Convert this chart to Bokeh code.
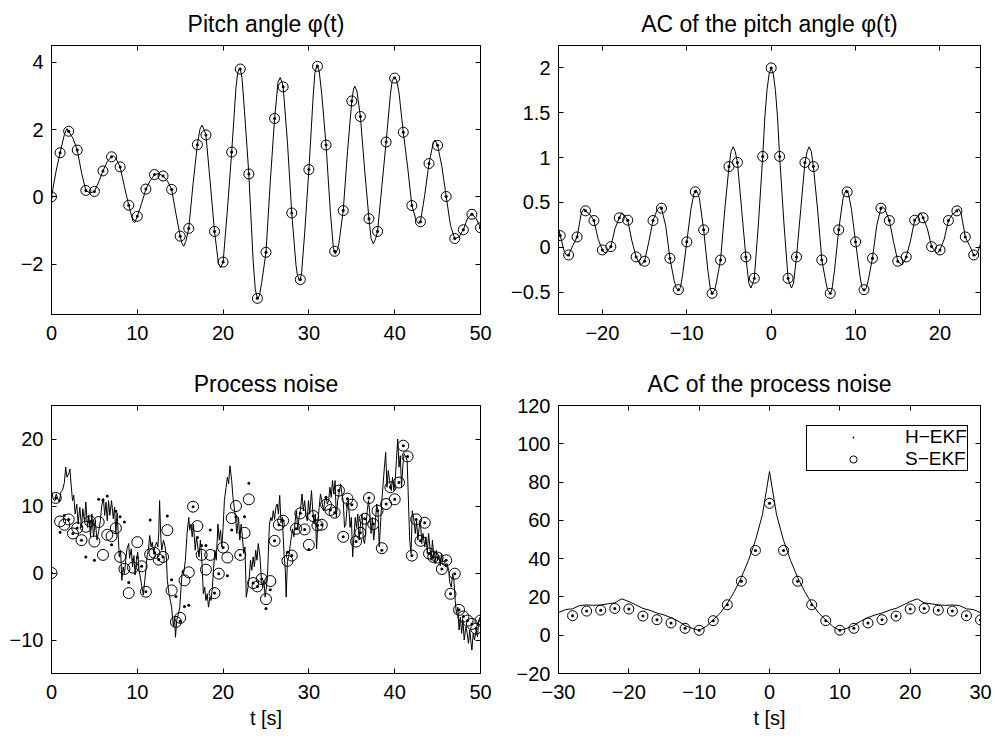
from bokeh.plotting import figure
from bokeh.models import (FixedTicker, LinearAxis, Range1d, CustomJSTickFormatter,
                          Legend, LegendItem)
from bokeh.layouts import column, row
from bokeh.embed import file_html
from bokeh.resources import INLINE

# ---------------- data ----------------
# Pitch angle: samples (markers) at integer seconds
pitch_t = list(range(0, 51))
pitch_est = [0.0, 1.31, 1.95, 1.39, 0.19, 0.16, 0.77, 1.19, 0.89, -0.25,
             -0.58, 0.23, 0.66, 0.62, 0.22, -1.17, -0.94, 1.55, 1.84, -1.03,
             -1.94, 1.33, 3.80, 0.68, -3.02, -1.65, 2.33, 3.27, -0.48, -2.46,
             0.81, 3.88, 1.54, -1.62, -0.41, 2.85, 2.39, -0.65, -1.03, 1.63,
             3.53, 1.92, -0.26, -0.74, 0.99, 1.53, 0.01, -1.24, -0.98, -0.52,
             -0.92]
# Pitch angle: true (continuous) signal, (t, value)
pitch_line = [(0, 0.0), (0.5, 0.72), (1, 1.31), (1.5, 1.85), (1.8, 2.03), (2, 1.95),
              (2.5, 1.74), (3, 1.39), (3.5, 0.72), (4, 0.19), (4.5, 0.11), (5, 0.16),
              (5.5, 0.44), (6, 0.77), (6.5, 1.05), (7, 1.19), (7.2, 1.22), (7.5, 1.15),
              (8, 0.89), (8.5, 0.30), (9, -0.25), (9.5, -0.73), (9.7, -0.77), (10, -0.58),
              (10.5, -0.20), (11, 0.23), (11.5, 0.48), (12, 0.66), (12.5, 0.69), (13, 0.62),
              (13.5, 0.48), (14, 0.22), (14.5, -0.50), (15, -1.17), (15.2, -1.38),
              (15.4, -1.47), (15.65, -1.33), (16, -0.94), (16.5, 0.39), (17, 1.55),
              (17.3, 2.01), (17.55, 2.13), (17.8, 1.99), (18, 1.84), (18.5, 0.42),
              (19, -1.03), (19.45, -1.97), (19.7, -2.11), (20, -1.94), (20.5, -0.40),
              (21, 1.33), (21.5, 3.25), (21.7, 3.68), (21.9, 3.83), (22, 3.80), (22.2, 3.55),
              (22.5, 2.53), (23, 0.68), (23.5, -1.90), (23.75, -2.75), (24, -3.04),
              (24.25, -2.92), (24.5, -2.55), (25, -1.65), (25.5, 0.45), (26, 2.33),
              (26.4, 3.40), (26.65, 3.55), (26.9, 3.38), (27, 3.27), (27.5, 1.62),
              (28, -0.48), (28.5, -2.04), (28.65, -2.32), (28.9, -2.50), (29, -2.46),
              (29.15, -2.26), (29.5, -1.10), (30, 0.81), (30.5, 3.00), (30.7, 3.69),
              (30.95, 3.93), (31, 3.88), (31.2, 3.74), (31.5, 3.05), (32, 1.54),
              (32.5, -0.45), (32.85, -1.51), (33, -1.62), (33.1, -1.70), (33.35, -1.55),
              (33.5, -1.38), (34, -0.41), (34.5, 1.35), (35, 2.85), (35.2, 3.20),
              (35.35, 3.29), (35.6, 3.14), (36, 2.39), (36.5, 0.80), (37, -0.65),
              (37.25, -1.24), (37.5, -1.40), (37.75, -1.27), (38, -1.03), (38.5, 0.30),
              (39, 1.63), (39.5, 3.05), (39.7, 3.44), (39.95, 3.57), (40.2, 3.49),
              (40.5, 3.10), (41, 1.92), (41.5, 0.90), (42, -0.26), (42.5, -0.70),
              (42.8, -0.80), (43, -0.74), (43.5, 0.05), (44, 0.99), (44.5, 1.62),
              (44.7, 1.69), (45, 1.53), (45.5, 0.90), (46, 0.01), (46.5, -0.85), (47, -1.25),
              (47.5, -1.19), (48, -0.98), (48.5, -0.63), (49, -0.51), (49.5, -0.65),
              (50, -0.92)]

# Autocorrelation of the pitch angle
ac_lag = list(range(-25, 25))
ac_est = [0.13, -0.086, 0.115, 0.406, 0.298, -0.03, 0.007, 0.328, 0.302, -0.108,
          -0.156, 0.298, 0.436, -0.123, -0.473, 0.06, 0.618, 0.194, -0.514, -0.142,
          0.90, 0.946, -0.108, -0.346, 1.013, 2.0, 1.013, -0.346, -0.108, 0.946,
          0.90, -0.142, -0.514, 0.194, 0.618, 0.06, -0.473, -0.123, 0.436, 0.298,
          -0.156, -0.108, 0.302, 0.328, 0.007, -0.03, 0.298, 0.406, 0.115, -0.086]
ac_line = [(-25.2, 0.21), (-25, 0.13), (-24.5, -0.05), (-24.2, -0.095), (-24, -0.086),
           (-23.5, 0.02), (-23, 0.115), (-22.5, 0.38), (-22.2, 0.43), (-22, 0.406),
           (-21.5, 0.37), (-21, 0.298), (-20.5, 0.09), (-20, -0.03), (-19.7, -0.065),
           (-19.5, -0.054), (-19, 0.007), (-18.5, 0.21), (-18, 0.328), (-17.7, 0.385),
           (-17.5, 0.37), (-17, 0.302), (-16.5, 0.07), (-16, -0.108), (-15.5, -0.20),
           (-15, -0.156), (-14.5, 0.06), (-14, 0.298), (-13.5, 0.42), (-13.15, 0.455),
           (-13, 0.436), (-12.5, 0.24), (-12, -0.123), (-11.5, -0.37), (-11.25, -0.457),
           (-11, -0.485), (-10.75, -0.45), (-10.5, -0.31), (-10, 0.06), (-9.5, 0.43),
           (-9.15, 0.60), (-9, 0.618), (-8.9, 0.64), (-8.65, 0.59), (-8.5, 0.54),
           (-8, 0.194), (-7.5, -0.26), (-7.2, -0.47), (-7, -0.514), (-6.7, -0.48),
           (-6.5, -0.40), (-6, -0.142), (-5.5, 0.42), (-5, 0.90), (-4.75, 1.07),
           (-4.5, 1.12), (-4.25, 1.065), (-4, 0.946), (-3.5, 0.42), (-3, -0.108),
           (-2.65, -0.40), (-2.4, -0.455), (-2.15, -0.395), (-2, -0.346), (-1.5, 0.28),
           (-1, 1.013), (-0.75, 1.45), (-0.5, 1.75), (-0.25, 1.93), (0, 2.0),
           (0.25, 1.93), (0.5, 1.75), (0.75, 1.45), (1, 1.013), (1.5, 0.28), (2, -0.346),
           (2.15, -0.395), (2.4, -0.455), (2.65, -0.40), (3, -0.108), (3.5, 0.42),
           (4, 0.946), (4.25, 1.065), (4.5, 1.12), (4.75, 1.07), (5, 0.90), (5.5, 0.42),
           (6, -0.142), (6.5, -0.40), (6.7, -0.48), (7, -0.514), (7.2, -0.47),
           (7.5, -0.26), (8, 0.194), (8.5, 0.54), (8.65, 0.59), (8.9, 0.64), (9, 0.618),
           (9.15, 0.60), (9.5, 0.43), (10, 0.06), (10.5, -0.31), (10.75, -0.45),
           (11, -0.485), (11.25, -0.457), (11.5, -0.37), (12, -0.123), (12.5, 0.24),
           (13, 0.436), (13.15, 0.455), (13.5, 0.42), (14, 0.298), (14.5, 0.06),
           (15, -0.156), (15.5, -0.20), (16, -0.108), (16.5, 0.07), (17, 0.302),
           (17.5, 0.37), (17.7, 0.385), (18, 0.328), (18.5, 0.21), (19, 0.007),
           (19.5, -0.054), (19.7, -0.065), (20, -0.03), (20.5, 0.09), (21, 0.298),
           (21.5, 0.37), (22, 0.406), (22.2, 0.43), (22.5, 0.38), (23, 0.115), (23.5, 0.02),
           (24, -0.086), (24.2, -0.095), (24.5, -0.05), (24.8, 0.04)]

# Process noise: true signal
noise_t = [0.0, 0.2, 0.4, 0.55, 0.7, 0.9, 1.1, 1.3, 1.5, 1.65, 1.8, 2.0, 2.15, 2.3, 2.45,
           2.6, 2.75, 2.95, 3.1, 3.3, 3.5, 3.65, 3.85, 4.0, 4.2, 4.35, 4.55, 4.7, 4.9, 5.1,
           5.3, 5.5, 5.7, 5.85, 6.05, 6.2, 6.35, 6.5, 6.65, 6.8, 7.0, 7.2, 7.35, 7.5, 7.65,
           7.9, 8.05, 8.2, 8.35, 8.5, 8.65, 8.8, 9.0, 9.1, 9.3, 9.45, 9.6, 9.75, 9.9, 10.05,
           10.2, 10.35, 10.5, 10.7, 10.85, 11.0, 11.15, 11.3, 11.45, 11.6, 11.75, 11.9, 12.1,
           12.25, 12.4, 12.5, 12.6, 12.75, 12.85, 13.05, 13.25, 13.4, 13.5, 13.7, 13.85, 14.0,
           14.2, 14.35, 14.45, 14.6, 14.8, 14.95, 15.1, 15.25, 15.4, 15.6, 15.8, 16.0, 16.1,
           16.25, 16.4, 16.55, 16.75, 16.9, 17.05, 17.2, 17.35, 17.5, 17.7, 17.85, 18.0,
           18.15, 18.3, 18.45, 18.6, 18.75, 18.9, 19.05, 19.2, 19.4, 19.55, 19.7, 19.85,
           20.0, 20.15, 20.35, 20.5, 20.65, 20.8, 21.0, 21.15, 21.3, 21.45, 21.6, 21.8,
           21.95, 22.1, 22.25, 22.4, 22.55, 22.7, 22.9, 23.05, 23.2, 23.35, 23.5, 23.65,
           23.8, 23.95, 24.1, 24.3, 24.45, 24.6, 24.75, 24.9, 25.05, 25.2, 25.4, 25.55,
           25.7, 25.85, 26.0, 26.15, 26.3, 26.45, 26.6, 26.75, 26.9, 27.1, 27.25, 27.35,
           27.5, 27.65, 27.8, 27.9, 28.1, 28.25, 28.4, 28.55, 28.7, 28.85, 29.0, 29.2,
           29.35, 29.5, 29.65, 29.8, 29.95, 30.1, 30.3, 30.45, 30.6, 30.75, 30.9, 31.05,
           31.2, 31.35, 31.5, 31.7, 31.85, 32.0, 32.15, 32.3, 32.45, 32.6, 32.75, 32.9,
           33.05, 33.2, 33.35, 33.5, 33.7, 33.85, 34.0, 34.15, 34.3, 34.45, 34.6, 34.8,
           34.95, 35.1, 35.25, 35.4, 35.55, 35.7, 35.85, 36.05, 36.2, 36.35, 36.5, 36.65,
           36.8, 36.95, 37.1, 37.25, 37.4, 37.55, 37.7, 37.9, 38.05, 38.2, 38.35, 38.5,
           38.65, 38.8, 38.95, 39.1, 39.25, 39.4, 39.6, 39.75, 39.9, 40.05, 40.2, 40.35,
           40.5, 40.65, 40.8, 40.95, 41.1, 41.3, 41.45, 41.6, 41.75, 41.9, 42.05, 42.2,
           42.4, 42.55, 42.7, 42.85, 43.0, 43.15, 43.3, 43.5, 43.65, 43.8, 43.95, 44.1,
           44.25, 44.4, 44.55, 44.7, 44.85, 45.0, 45.15, 45.3, 45.45, 45.6, 45.8, 45.95,
           46.1, 46.3, 46.4, 46.6, 46.75, 46.9, 47.05, 47.2, 47.35, 47.5, 47.65, 47.8,
           47.95, 48.1, 48.3, 48.45, 48.6, 48.75, 48.9, 49.0, 49.15, 49.3, 49.5, 49.65,
           49.8, 50.0]
noise_true = [12.3, 11.0, 10.8, 11.8, 11.2, 10.6, 12.1, 12.4, 13.5, 15.8, 14.3, 14.8, 15.5,
              13.0, 10.8, 11.6, 8.8, 10.3, 7.3, 9.8, 6.8, 9.6, 7.6, 10.6, 6.8, 8.6, 5.4, 8.8,
              5.4, 7.8, 4.9, 6.2, 7.8, 10.0, 11.1, 8.6, 10.6, 7.8, 10.8, 8.6, 10.8, 8.1, 9.8,
              5.9, 9.0, 2.4, 3.4, -1.1, 0.9, -0.1, 1.9, 3.6, 4.4, 2.2, 3.6, 0.9, 2.6, -0.3,
              1.9, 3.1, 0.4, -0.6, -1.8, -3.3, -1.3, 0.4, 2.6, 3.6, 5.6, 3.9, 4.6, 3.1, 4.1,
              4.6, 3.9, 6.0, 10.8, 5.0, 3.4, 4.9, 3.9, 2.0, -1.1, -3.1, -4.1, -5.1, -8.0,
              -6.6, -9.6, -7.0, -6.1, -5.1, -2.1, 0.4, -0.1, 1.9, 5.9, 8.3, 6.4, 7.3, 5.4,
              7.3, 3.4, 5.4, 3.9, 2.4, 4.9, 2.4, -3.1, -2.1, -4.1, -3.1, -5.1, -3.6, -4.1,
              -2.1, 0.9, 3.4, 1.9, 7.3, 4.9, 6.4, 3.9, 6.8, 10.8, 12.8, 14.3, 13.3, 16.0,
              13.8, 11.3, 9.8, 8.3, 5.9, 8.3, 4.9, 7.3, 5.4, 2.9, 3.9, -3.6, -2.1, -0.6,
              1.9, 0.4, 2.4, 0.9, 3.4, 1.9, 4.4, 2.4, -0.6, -2.1, -1.1, -3.6, -2.1, 0.4,
              7.3, 8.3, 7.8, 9.3, 8.0, 9.8, 10.3, 8.8, 11.6, 7.5, 8.3, 2.9, 0.4, -3.6, 1.9,
              2.4, 3.9, 4.9, 6.6, 5.4, 7.8, 9.3, 6.4, 8.3, 9.3, 11.8, 9.3, 10.8, 8.8, 7.8,
              10.8, 8.8, 12.3, 9.3, 7.3, 8.8, 3.6, 7.8, 9.8, 11.8, 10.8, 9.3, 10.8, 11.3,
              10.3, 10.8, 12.8, 11.3, 13.8, 11.8, 13.8, 8.3, 10.8, 11.8, 13.3, 11.8, 10.8,
              6.8, 7.3, 9.8, 10.8, 6.8, 8.3, 2.4, 5.4, 8.3, 6.8, 8.8, 4.9, 7.8, 8.8, 4.9,
              4.4, 6.8, 9.3, 10.8, 8.8, 5.9, 8.3, 4.9, 6.8, 10.3, 9.3, 3.9, 7.3, 10.8, 13.3,
              15.8, 18.0, 12.8, 15.3, 13.8, 12.3, 14.3, 12.3, 13.8, 16.8, 20.0, 15.8, 17.5,
              12.8, 16.0, 17.8, 17.3, 16.8, 10.8, 4.9, 2.9, 9.3, 8.3, 5.9, 7.8, 4.9, 6.8,
              7.8, 4.4, 5.9, 3.9, 5.4, 2.9, 5.9, 3.9, 1.9, 4.9, 2.4, 1.4, 3.4, 1.9, 2.6, 1.1,
              2.9, 1.6, 1.9, 0.9, 1.4, 0.4, -1.3, -2.1, -0.1, -1.1, -4.1, -6.1, -5.1, -8.5,
              -6.6, -9.0, -7.0, -10.0, -8.0, -9.0, -10.5, -8.5, -10.5, -11.5, -9.0, -10.0,
              -8.5, -9.5, -7.0, -6.5]

# Process noise: filter estimates every 0.5 s
est_t = [i * 0.5 for i in range(101)]
s_ekf = [0.0, 11.2, 7.7, 7.2, 8.0, 5.9, 6.7, 4.9, 6.9, 7.7, 4.7, 7.6, 2.7, 5.7, 5.5, 6.7,
         2.4, 0.6, -3.0, 0.8, 4.6, 1.0, -2.8, 2.8, 3.0, 2.0, 2.4, 6.4, -2.6, -7.3, -6.7,
         -1.1, 0.1, 9.9, 7.0, 2.7, 0.5, 2.7, -3.0, -0.1, 3.8, 2.3, 8.2, 10.0, 2.7, 6.0,
         11.0, -1.5, -2.0, -0.9, -3.9, -1.2, 4.8, 7.2, 7.8, 1.8, 2.6, 6.6, 8.9, 6.5, 4.2,
         8.5, 7.1, 7.2, 10.2, 9.4, 9.0, 12.3, 5.4, 11.1, 10.2, 4.7, 6.0, 8.1, 11.2, 7.3,
         9.3, 3.7, 10.3, 12.8, 11.0, 13.5, 19.0, 17.4, 2.6, 8.0, 4.8, 7.5, 2.9, 2.4, 2.3,
         0.6, 1.9, -3.1, -0.1, -5.5, -6.5, -7.1, -7.6, -8.3, -7.1]
h_ekf = [0.0, 11.2, 6.1, 8.6, 8.0, 5.9, 6.7, 4.9, 2.4, 7.7, 1.9, 11.0, 10.9, 11.5, 4.2, 9.2,
         8.4, 7.6, -1.4, 2.0, 2.3, 1.0, -2.8, 7.9, 3.0, 2.0, 2.4, 8.5, -1.0, -3.5, -7.2,
         -5.0, -4.8, 9.9, 5.3, 4.1, 4.1, 6.4, -3.0, -0.1, 3.8, -0.4, 6.4, 8.4, 2.7, 8.4,
         13.4, -1.5, -2.0, -0.9, -5.3, -2.5, 4.8, 7.2, 7.8, 3.1, 2.6, 6.6, 8.9, 6.5, 3.5,
         8.5, 7.1, 7.2, 11.3, 9.4, 9.0, 12.3, 5.4, 11.1, 10.2, 4.7, 6.0, 8.1, 11.2, 7.3,
         9.3, 3.4, 10.3, 12.8, 11.0, 13.5, 19.0, 17.4, 2.6, 8.0, 4.8, 7.5, 2.9, 2.4, 2.3,
         0.6, 1.9, -3.1, -0.1, -5.5, -6.5, -7.1, -7.6, -8.3, -7.1]

# Autocorrelation of the process noise
acn_lag = list(range(-30, 31))
acn_true = [11.8, 13.4, 13.8, 15.5, 15.8, 15.6, 15.8, 16.4, 16.9, 19.0, 17.6, 15.8, 14.0,
            13.0, 11.6, 10.6, 9.2, 7.4, 5.0, 3.6, 2.5, 4.6, 8.0, 11.6, 16.6, 22.8, 30.2,
            39.0, 49.5, 63.0, 85.5, 63.0, 49.5, 39.0, 30.2, 22.8, 16.6, 11.6, 8.0, 4.6, 2.5,
            3.6, 5.0, 7.4, 9.2, 10.6, 11.6, 13.0, 14.0, 15.8, 17.6, 19.0, 16.9, 16.4, 15.8,
            15.6, 15.8, 15.5, 13.8, 13.4, 11.8]
acn_est_lag = list(range(-28, 31, 2))
acn_est = [10.2, 12.6, 13.1, 14.0, 13.7, 10.0, 8.1, 6.4, 3.6, 2.6, 7.6, 15.9, 28.2, 44.3,
           68.9, 44.3, 28.2, 15.9, 7.6, 2.6, 3.6, 6.4, 8.1, 10.0, 13.7, 14.0, 13.1, 12.6,
           10.2, 8.0]

titles = ["Pitch angle \u03c6(t)", "AC of the pitch angle \u03c6(t)",
          "Process noise", "AC of the process noise"]
x_label = "t [s]"
legend_labels = ["H\u2212EKF", "S\u2212EKF"]

# ---------------- styling ----------------
FONT = "Liberation Sans"
TICK_FS = "20px"
TITLE_FS = "23px"


def minus_fmt():
    return CustomJSTickFormatter(code="return String(tick).replace('-', '\u2212');")


def style_axis(ax, ticks, standoff):
    ax.ticker = FixedTicker(ticks=ticks)
    ax.formatter = minus_fmt()
    ax.major_tick_in = 5
    ax.major_tick_out = 0
    ax.minor_tick_in = 0
    ax.minor_tick_out = 0
    ax.axis_line_color = "black"
    ax.axis_line_width = 1
    ax.major_tick_line_color = "black"
    ax.major_label_text_font = FONT
    ax.major_label_text_font_size = TICK_FS
    ax.major_label_text_color = "black"
    ax.major_label_standoff = standoff


def mirror_axis(ticks):
    return LinearAxis(ticker=FixedTicker(ticks=ticks),
                      formatter=CustomJSTickFormatter(code="return '';"),
                      major_label_text_font_size="0px", major_label_standoff=0,
                      major_tick_in=5, major_tick_out=0, minor_tick_in=0, minor_tick_out=0,
                      axis_line_color="black", major_tick_line_color="black")


def make_fig(title, w, h, bl, br, bt, bb, xr, yr, xt, yt, xlabel=None):
    p = figure(width=w, height=h, x_range=Range1d(*xr), y_range=Range1d(*yr),
               output_backend="svg", toolbar_location=None, title=title,
               min_border_left=bl, min_border_right=br, min_border_top=bt,
               min_border_bottom=bb)
    p.title.align = "center"
    p.title.text_font = FONT
    p.title.text_font_size = TITLE_FS
    p.title.text_font_style = "normal"
    p.title.text_color = "black"
    p.title.standoff = 17
    p.xgrid.visible = False
    p.ygrid.visible = False
    p.outline_line_color = "black"
    p.outline_line_alpha = 1
    p.outline_line_width = 1
    p.background_fill_color = "white"
    p.border_fill_color = "white"
    style_axis(p.xaxis[0], xt, 11)
    style_axis(p.yaxis[0], yt, 8)
    if xlabel:
        p.xaxis[0].axis_label = xlabel
        p.xaxis[0].axis_label_text_font = FONT
        p.xaxis[0].axis_label_text_font_size = "20px"
        p.xaxis[0].axis_label_text_font_style = "normal"
        p.xaxis[0].axis_label_text_color = "black"
        p.xaxis[0].axis_label_standoff = 5
    p.add_layout(mirror_axis(xt), "above")
    p.add_layout(mirror_axis(yt), "right")
    return p


LW = 1
CIRC = 10
DOT = 12

# Top left
p1 = make_fig(titles[0], 500, 360, 51, 20, 45, 46, (0, 50), (-3.5, 4.5),
              [0, 10, 20, 30, 40, 50], [-2, 0, 2, 4])
p1.line([q[0] for q in pitch_line], [q[1] for q in pitch_line],
        line_color="black", line_width=LW)
p1.scatter(pitch_t, pitch_est, marker="circle", size=CIRC, fill_color=None,
           line_color="black", line_width=LW)
p1.scatter(pitch_t, pitch_est, marker="dot", size=DOT, color="black")

# Top right
p2 = make_fig(titles[1], 494, 360, 58, 14, 45, 46, (-25.2, 24.8), (-0.75, 2.25),
              [-20, -10, 0, 10, 20], [-0.5, 0, 0.5, 1, 1.5, 2])
p2.line([q[0] for q in ac_line], [q[1] for q in ac_line],
        line_color="black", line_width=LW)
p2.scatter(ac_lag, ac_est, marker="circle", size=CIRC, fill_color=None,
           line_color="black", line_width=LW)
p2.scatter(ac_lag, ac_est, marker="dot", size=DOT, color="black")

# Bottom left
p3 = make_fig(titles[2], 500, 377, 51, 20, 44, 64, (0, 50), (-15, 25),
              [0, 10, 20, 30, 40, 50], [-10, 0, 10, 20], xlabel=x_label)
p3.line(noise_t, noise_true, line_color="black", line_width=LW)
p3.scatter(est_t, h_ekf, marker="dot", size=DOT, color="black")
p3.scatter(est_t, s_ekf, marker="circle", size=11, fill_color=None,
           line_color="black", line_width=LW)

# Bottom right
p4 = make_fig(titles[3], 494, 377, 58, 14, 44, 64, (-30, 30), (-20, 120),
              [-30, -20, -10, 0, 10, 20, 30], [-20, 0, 20, 40, 60, 80, 100, 120],
              xlabel=x_label)
p4.line(acn_lag, acn_true, line_color="black", line_width=LW)
r_dot = p4.scatter(acn_est_lag, acn_est, marker="dot", size=DOT, color="black")
r_circ = p4.scatter(acn_est_lag, acn_est, marker="circle", size=CIRC, fill_color=None,
                    line_color="black", line_width=LW)

legend = Legend(items=[LegendItem(label=legend_labels[0], renderers=[r_dot]),
                       LegendItem(label=legend_labels[1], renderers=[r_circ])],
                location=(248, 202), orientation="vertical",
                label_text_font=FONT, label_text_font_size="19px",
                label_text_color="black",
                glyph_width=92, glyph_height=18, label_height=20, label_standoff=6,
                padding=0, spacing=0, margin=0,
                border_line_color="black", border_line_width=1, border_line_alpha=1,
                background_fill_color="white", background_fill_alpha=1)
p4.add_layout(legend)

layout = column(row(p1, p2), row(p3, p4))

with open("out.html", "w") as f:
    f.write(file_html(layout, INLINE))
